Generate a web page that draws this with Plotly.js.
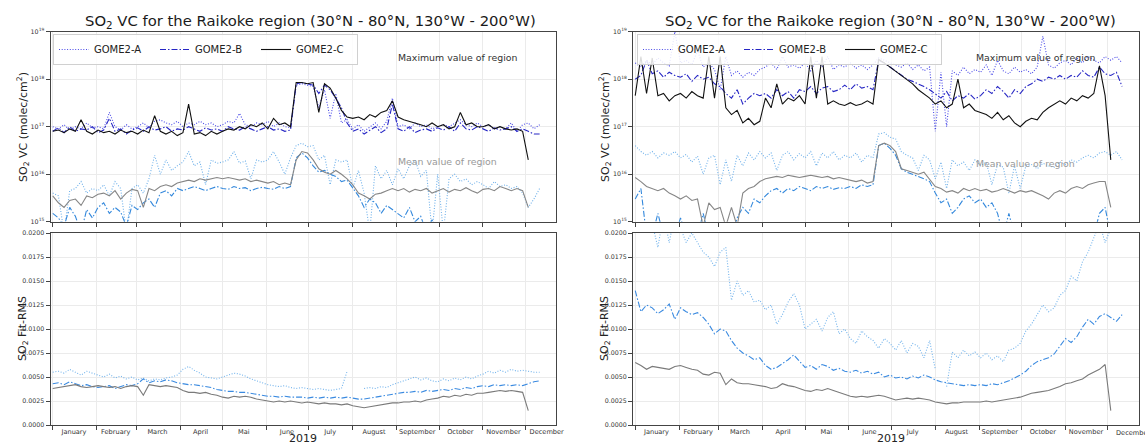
<!DOCTYPE html>
<html>
<head>
<meta charset="utf-8">
<script src="https://cdn.plot.ly/plotly-3.0.1.min.js"></script>
<style>
  html, body { margin: 0; padding: 0; background: #fff; overflow: hidden; }
  #chart { width: 1145px; height: 446px; }
</style>
</head>
<body>
<div id="chart"></div>
<script>
// Samples are taken every 4 days starting 1 January 2019.
const startDay = '2019-01-01';
const stepDays = 4;

const monthStarts = ['2019-01-01','2019-02-01','2019-03-01','2019-04-01','2019-05-01','2019-06-01',
                     '2019-07-01','2019-08-01','2019-09-01','2019-10-01','2019-11-01','2019-12-01'];
const monthMids = ['2019-01-16','2019-02-14 12:00','2019-03-16','2019-04-15 12:00','2019-05-16','2019-06-15 12:00',
                   '2019-07-16','2019-08-16','2019-09-15 12:00','2019-10-16','2019-11-15 12:00','2019-12-16'];
const monthLabels = ['January','February','March','April','Mai','June','July','August','September','October','November','December'];
const satellites = ['GOME2-A', 'GOME2-B', 'GOME2-C'];

const vcTicks = [1e15, 1e16, 1e17, 1e18, 1e19];
const vcTickText = ['10<sup>15</sup>','10<sup>16</sup>','10<sup>17</sup>','10<sup>18</sup>','10<sup>19</sup>'];
const rmsTicks = [0, 0.0025, 0.005, 0.0075, 0.01, 0.0125, 0.015, 0.0175, 0.02];

// ---------- Panel 1: SO2 VC, maximum of region ----------
const p1MaxA = [
  1.0e17, 9e16, 1.1e17, 8.5e16, 1.0e17, 9e16, 1.2e17, 9.5e16, 1.0e17, 9e16,
  2.0e17, 1.0e17, 8.5e16, 1.1e17, 9e16, 1.0e17, 1.2e17, 9.5e16, 1.3e17, 1.4e17,
  1.2e17, 1.1e17, 1.3e17, 1.0e17, 1.2e17, 1.1e17, 1.3e17, 1.1e17, 1.2e17, 1.0e17,
  1.1e17, 1.3e17, 1.2e17, 1.9e17, 1.1e17, 1.0e17, 1.2e17, 1.1e17, 1.3e17, 1.0e17,
  1.2e17, 1.0e17, 9.5e16, 7.5e17, 8e17, 7.5e17, 7e17, 2.5e17, 6e17, 1.5e17,
  5e17, 1.2e17, 1.4e17, 9e16, 1.1e17, 8e16, 1.0e17, 1.2e17, 9e16, 1.3e17,
  4e17, 1.0e17, 1.1e17, 9e16, 1.2e17, 1.0e17, 1.1e17, 9e16, 1.0e17, 1.1e17,
  1.0e17, 1.2e17, 1.4e17, 1.1e17, 1.0e17, 1.2e17, 1.0e17, 1.1e17, 9e16, 1.0e17,
  9e16, 1.2e17, 8e16, 1.1e17, 1.2e17, 9e16, 1.1e17
];
const p1MaxB = [
  8e16, 9.5e16, 7.5e16, 1.0e17, 8e16, 9e16, 8.5e16, 1.0e17, 7.5e16, 8.5e16,
  1.5e17, 8e16, 9e16, 7e16, 8.5e16, 9.5e16, 8e16, 1.0e17, 8.5e16, 9e16,
  1.0e17, 8e16, 9e16, 8.5e16, 1.0e17, 9e16, 8e16, 9.5e16, 8.5e16, 9e16,
  8e16, 1.0e17, 9e16, 8.5e16, 1.0e17, 9e16, 8e16, 9e16, 1.0e17, 8.5e16,
  9e16, 8e16, 8.5e16, 8e17, 8.5e17, 8e17, 7.5e17, 5e17, 7.5e17, 6e17,
  4e17, 2.5e17, 1.2e17, 8e16, 9e16, 7e16, 8.5e16, 1.0e17, 7.5e16, 9e16,
  3e17, 9e16, 8e16, 1.0e17, 7.5e16, 8.5e16, 9e16, 8e16, 9.5e16, 8.5e16,
  1.0e17, 8e16, 1.2e17, 9e16, 8.5e16, 1.0e17, 9e16, 8e16, 9.5e16, 8.5e16,
  9e16, 1.0e17, 8e16, 9e16, 8e16, 7e16, 7e16
];
const p1MaxC = [
  8e16, 8.5e16, 7.5e16, 9e16, 8e16, 1.4e17, 8e16, 7e16, 8.5e16, 7.5e16,
  8e16, 7e16, 8.5e16, 7.5e16, 8e16, 7e16, 8.5e16, 7.5e16, 1.7e17, 8e16,
  7e16, 8e16, 6.5e16, 7.5e16, 3e17, 7e16, 7.5e16, 6.5e16, 8e16, 7e16,
  8e16, 9e16, 8.5e16, 1.0e17, 9e16, 1.1e17, 1.0e17, 1.2e17, 9e16, 1.5e17,
  1.1e17, 1.2e17, 1.0e17, 8.5e17, 8.5e17, 8e17, 8.5e17, 2e17, 8e17, 6.5e17,
  4e17, 2.2e17, 1.6e17, 1.5e17, 1.6e17, 1.4e17, 1.8e17, 1.6e17, 2.0e17, 2.2e17,
  3.5e17, 1.6e17, 1.4e17, 1.3e17, 1.2e17, 1.1e17, 1.0e17, 1.2e17, 1.0e17, 1.1e17,
  9e16, 1.0e17, 2.0e17, 1.1e17, 1.2e17, 1.0e17, 1.0e17, 1.1e17, 9e16, 1.0e17,
  9e16, 8.5e16, 9e16, 8e16, 2e16, null, null
];

// ---------- Panel 1: SO2 VC, mean of region ----------
const p1MeanA = [
  4e15, 3.5e15, 6e14, 4.5e15, 5e15, 7e15, 4e15, 5e15, 4.5e15, 6e15,
  3.5e15, 7e15, 5e15, 6e14, 5e15, 6e15, 4e15, 8e15, 2.5e16, 1e16,
  2e16, 1.2e16, 1.5e16, 1.8e16, 3e16, 1.5e16, 1.8e16, 6e15, 2e16, 1.7e16,
  1.8e16, 2e16, 3e16, 1.7e16, 1.9e16, 8e15, 2e16, 1.8e16, 2e16, 3e16,
  1.8e16, 1e16, 2.2e16, 4e16, 4.5e16, 3.8e16, 4e16, 2e16, 2.5e16, 6e15,
  2e16, 1.8e16, 2e16, 5e15, 1.2e16, 4e15, 6e14, 1.5e16, 8e15, 1.2e16,
  6e15, 1.3e16, 8e15, 1.5e16, 2e16, 9e15, 1.2e16, 6e14, 1e16, 6e14,
  8e15, 1e16, 7e15, 8e15, 6e15, 7e15, 6e15, 5e15, 7e15, 5.5e15,
  6e15, 5e15, 5.5e15, 4e15, 2e15, 3e15, 5e15
];
const p1MeanB = [
  1.5e15, 1.2e15, 8e14, 2e15, 1.3e15, 6e14, 1.8e15, 1.2e15, 2e15, 2.5e15,
  1.5e15, 2e15, 1.6e15, 8e14, 2.2e15, 1.8e15, 2.5e15, 3e15, 2e15, 4e15,
  4.5e15, 3.5e15, 5e15, 4.5e15, 5e15, 5.5e15, 5e15, 4.5e15, 5e15, 5.5e15,
  5e15, 4.8e15, 5.5e15, 5e15, 5.2e15, 4.5e15, 5e15, 5.3e15, 5e15, 4.8e15,
  5.5e15, 5e15, 5.5e15, 2.2e16, 2.8e16, 2.2e16, 1.5e16, 1.1e16, 1.2e16, 1e16,
  9e15, 7e15, 7.5e15, 5e15, 3.5e15, 2e15, 3e15, 2.5e15, 1.5e15, 2.2e15,
  1.8e15, 1.5e15, 1.2e15, 2e15, 1e15, 1.3e15, 6e14, 1.1e15, 5e14, null,
  null, null, null, null, null, null, null, null, null, null,
  null, null, null, null, null, null, null
];
const p1MeanC = [
  3.5e15, 2.5e15, 2e15, 2.8e15, 3e15, 2.2e15, 3.5e15, 3.2e15, 3.8e15, 4e15,
  3.5e15, 4.5e15, 3e15, 4e15, 4.8e15, 4.5e15, 2e15, 5e15, 4.5e15, 5.5e15,
  6e15, 5.5e15, 6.5e15, 7e15, 7.5e15, 7e15, 8e15, 7.5e15, 8e15, 8.5e15,
  8e15, 8.5e15, 8e15, 7.5e15, 8e15, 7e15, 7.5e15, 7e15, 6.5e15, 7e15,
  6e15, 6.5e15, 6e15, 2e16, 3e16, 2.8e16, 2e16, 1.3e16, 1.1e16, 1e16,
  1.2e16, 1e16, 8e15, 6e15, 4e15, 3.5e15, 3e15, 3.8e15, 4e15, 4.5e15,
  5e15, 4.5e15, 5e15, 4.2e15, 4.8e15, 4.5e15, 5e15, 4e15, 4.5e15, 5e15,
  4.2e15, 4.8e15, 4.5e15, 5.2e15, 4.5e15, 4e15, 4.8e15, 5e15, 4.5e15, 5.5e15,
  5e15, 4.5e15, 5e15, 4.5e15, 2e15, null, null
];

// ---------- Panel 1: SO2 fit RMS ----------
const p1RmsA = [
  .0055, .0056, .0054, .0058, .0055, .0052, .0056, .0054, .0052, .0050,
  .0053, .0049, .0051, .0048, .0050, .0047, .0049, .0046, .0048, .0047,
  .0049, .0050, .0052, .0058, .0061, .0057, .0054, .0050, .0049, .0048,
  .0050, .0052, .0054, .0053, .0051, .0048, .0046, .0044, .0042, .0041,
  .0040, .0041, .0039, .0038, .0039, .0038, .0037, .0038, .0037, .0036,
  .0037, .0038, .0056, null, null, .0038, .0039, .0038, .0040, .0039,
  .0042, .0044, .0046, .0048, .0050, .0047, .0049, .0046, .0045, .0048,
  .0046, .0049, .0047, .0050, .0048, .0051, .0053, .0056, .0054, .0057,
  .0055, .0058, .0056, .0057, .0056, .0055, .0055
];
const p1RmsB = [
  .0043, .0044, .0042, .0045, .0043, .0041, .0042, .0040, .0039, .0040,
  .0041, .0038, .0040, .0042, .0041, .0043, .0048, .0044, .0046, .0045,
  .0047, .0046, .0044, .0043, .0042, .0042, .0041, .0040, .0039, .0037,
  .0036, .0035, .0035, .0034, .0034, .0033, .0032, .0031, .0030, .0030,
  .0029, .0030, .0029, .0029, .0029, .0028, .0029, .0028, .0029, .0028,
  .0029, .0028, .0029, .0028, .0027, .0027, .0028, .0029, .0030, .0031,
  .0032, .0033, .0034, .0034, .0035, .0034, .0036, .0035, .0036, .0037,
  .0036, .0038, .0037, .0039, .0038, .0040, .0041, .0040, .0042, .0041,
  .0042, .0041, .0042, .0041, .0043, .0045, .0046
];
const p1RmsC = [
  .0038, .0039, .0040, .0041, .0042, .0040, .0039, .0040, .0041, .0040,
  .0039, .0040, .0038, .0040, .0041, .0040, .0031, .0042, .0041, .0040,
  .0041, .0040, .0039, .0036, .0034, .0034, .0033, .0034, .0032, .0031,
  .0029, .0028, .0030, .0029, .0030, .0029, .0027, .0026, .0025, .0024,
  .0025, .0024, .0025, .0024, .0023, .0024, .0023, .0022, .0023, .0022,
  .0022, .0021, .0022, .0020, .0019, .0018, .0019, .0020, .0021, .0022,
  .0023, .0023, .0024, .0024, .0025, .0024, .0026, .0027, .0028, .0030,
  .0029, .0031, .0030, .0032, .0031, .0033, .0033, .0034, .0035, .0036,
  .0035, .0036, .0035, .0034, .0015, null, null
];

// ---------- Panel 2: SO2 VC, maximum of region ----------
const p2MaxA = [
  2.2e18, 1.8e18, 2.5e18, 2e18, 2.8e18, 2.2e18, 1.9e18, 1e19, 2.2e18, 2.5e18,
  2e18, 4e18, 1.8e18, 2.2e18, 1.6e18, 6e17, 3e18, 1.2e18, 1.5e18, 1.1e18,
  1.4e18, 1.2e18, 1.6e18, 1.8e18, 2.2e18, 1.6e18, 3e18, 1.8e18, 2e18, 1.7e18,
  2.2e18, 1.5e18, 2.5e18, 1.8e18, 3e18, 1.6e18, 2e18, 1.8e18, 2.2e18, 1.7e18,
  2e18, 1.6e18, 2e18, 2.8e18, 2.5e18, 2.2e18, 2e18, 1.8e18, 2.2e18, 1.6e18,
  2e18, 1.5e18, 1.8e18, 8e16, 1.4e18, 1e17, 1.5e18, 1.2e18, 1.8e18, 1.3e18,
  1.6e18, 1.4e18, 2e18, 1.2e18, 2.5e18, 1.5e18, 1.3e18, 1.8e18, 1.4e18, 1.6e18,
  1.3e18, 1.8e18, 8e18, 2e18, 1.7e18, 2.2e18, 2.5e18, 2e18, 2.8e18, 2.2e18,
  3e18, 2.5e18, 2.2e18, 3e18, 2.5e18, 3e18, 2.2e18
];
const p2MaxB = [
  1e18, 1.2e18, 2.5e18, 1.3e18, 1.5e18, 1.1e18, 1.4e18, 1.2e18, 1.1e18, 1.3e18,
  9e17, 1.2e18, 1e18, 1.1e18, 8e17, 7e17, 5e17, 4e17, 6e17, 3e17,
  4e17, 5e17, 4.5e17, 5e17, 4e17, 6e17, 4.5e17, 5.5e17, 4e17, 6e17,
  5.5e17, 7e17, 5e17, 6.5e17, 7e17, 5.5e17, 6e17, 7.5e17, 6e17, 8e17,
  6.5e17, 7e17, 6e17, 2.5e18, 2.2e18, 1.8e18, 1.5e18, 1.2e18, 1e18, 9e17,
  8e17, 7e17, 6e17, 5e17, 4e17, 5.5e17, 3.5e17, 4.5e17, 4e17, 5e17,
  3.8e17, 4.5e17, 6e17, 5e17, 7e17, 5.5e17, 4e17, 6e17, 5e17, 7e17,
  8e17, 1e18, 9e17, 1.1e18, 1e18, 1.2e18, 1e18, 1.2e18, 1.1e18, 1.5e18,
  1.2e18, 1.1e18, 1.8e18, 1.3e18, 1.2e18, 1.4e18, 7e17
];
const p2MaxC = [
  4.5e17, 3e18, 5e17, 2.8e18, 4.5e17, 5e17, 3.5e17, 4.5e17, 5e17, 4e17,
  5.5e17, 4.5e17, 4e17, 3e18, 4e17, 3e18, 2.5e17, 1.8e17, 2.2e17, 1.2e17,
  1.5e17, 1.1e17, 1.3e17, 4e17, 2.5e17, 8e17, 3e17, 4e17, 3.5e17, 4.5e17,
  3e17, 3e18, 4e17, 3e18, 3e17, 3.5e17, 3e17, 2.8e17, 3.2e17, 2.8e17,
  3e17, 3.5e17, 3e17, 2.6e18, 2.2e18, 1.8e18, 1.5e18, 1.2e18, 1e18, 8e17,
  6e17, 5e17, 4e17, 3e17, 3.5e17, 2.5e17, 3e17, 1e18, 2.5e17, 3e17,
  2.2e17, 2e17, 1.8e17, 1.5e17, 2e17, 1.4e17, 1.7e17, 1.2e17, 1e17, 1.3e17,
  1.5e17, 1.4e17, 2e17, 2.5e17, 3e17, 3.5e17, 3e17, 4e17, 3.5e17, 4.5e17,
  4e17, 5e17, 1.9e18, 4.5e17, 2e16, null, null
];

// ---------- Panel 2: SO2 VC, mean of region ----------
const p2MeanA = [
  4e16, 3e16, 2.5e16, 3e16, 2.2e16, 2.8e16, 2.5e16, 3e16, 2.2e16, 2.6e16,
  1.8e16, 2.4e16, 1e16, 2.2e16, 2.5e16, 6e15, 2e16, 7e15, 2.5e16, 1.5e16,
  2.8e16, 2e16, 3e16, 2.2e16, 2.8e16, 1.2e16, 2.5e16, 3e16, 2e16, 2.7e16,
  2.2e16, 3e16, 1.5e16, 2.8e16, 2.2e16, 3e16, 2e16, 2.5e16, 2.2e16, 2.8e16,
  1.8e16, 2.5e16, 2.2e16, 7e16, 7.5e16, 6e16, 5.5e16, 3e16, 2.5e16, 2.2e16,
  1.2e16, 2.5e16, 2e16, 8e15, 1.8e16, 5e15, 2e16, 1.5e16, 1.8e16, 1.2e16,
  2e16, 1.5e16, 1.8e16, 6e15, 1.6e16, 1.4e16, 4e15, 1.5e16, 5e15, 1.5e16,
  1.6e16, 1.3e16, 1.7e16, 1.5e16, 1.4e16, 1.8e16, 1.6e16, 2e16, 1.8e16, 2.2e16,
  2.5e16, 2.2e16, 2.8e16, 3e16, 2.5e16, 3e16, 2e16
];
const p2MeanB = [
  3e15, 5e15, 5e14, 5e14, 1.5e15, 5e14, 5e14, 5e14, 1.2e15, 5e14,
  5e14, 5e14, 1.5e15, 5e14, 5e14, 5e14, 5e14, 5e14, 1.2e15, 2e15,
  1.5e15, 3e15, 2.5e15, 3.5e15, 4.5e15, 5e15, 4e15, 5e15, 4.5e15, 5.5e15,
  5e15, 4.5e15, 5.5e15, 5e15, 5.5e15, 4.8e15, 5.2e15, 5e15, 5.5e15, 5e15,
  6e15, 5.5e15, 6e15, 4e16, 4.5e16, 3.5e16, 2.5e16, 1.3e16, 1.1e16, 1e16,
  9e15, 8e15, 7e15, 4e15, 2.5e15, 3e15, 1.5e15, 2e15, 3e15, 3.5e15,
  2.5e15, 3e15, 2e15, 2.5e15, 1.5e15, 5e14, 1.5e15, 5e14, 5e14, null,
  null, null, null, null, null, null, null, null, null, null,
  null, 5e14, 1.5e15, 2e15, 5e14, null, null
];
const p2MeanC = [
  8.5e15, 7e15, 5.5e15, 5e15, 4.5e15, 5e15, 4e15, 3.5e15, 3e15, 3.5e15,
  2.8e15, 3e15, 8e14, 2.5e15, 1.8e15, 2e15, 8e14, 2e15, 8e14, 4e15,
  5e15, 5.5e15, 7e15, 8e15, 8.5e15, 9e15, 8.5e15, 9.5e15, 9e15, 8.5e15,
  9e15, 9.5e15, 9e15, 8.5e15, 9e15, 8e15, 8.5e15, 8e15, 7.5e15, 7e15,
  7.5e15, 6.5e15, 7e15, 4e16, 4.5e16, 4e16, 3e16, 1.3e16, 1.2e16, 1.1e16,
  1e16, 1.1e16, 8e15, 5.5e15, 5e15, 4.2e15, 4.5e15, 4e15, 5e15, 4.5e15,
  5e15, 4.5e15, 4.8e15, 4.2e15, 4.5e15, 5e15, 4.5e15, 4e15, 4.5e15, 4.2e15,
  4.5e15, 4e15, 3.5e15, 3e15, 4e15, 4.5e15, 4e15, 5e15, 5.5e15, 5e15,
  6e15, 6.5e15, 7e15, 7e15, 2e15, null, null
];

// ---------- Panel 2: SO2 fit RMS ----------
const p2RmsA = [
  .022, .023, .022, .021, .0185, .022, .019, .022, .0205, .019,
  .020, .019, .018, .0175, .0165, .018, .0185, .013, .015, .0135,
  .0140, .0128, .013, .0120, .0125, .0105, .0115, .0128, .0137, .0125,
  .0100, .0105, .0110, .0098, .0112, .0118, .0095, .0100, .0090, .0085,
  .0098, .0092, .0088, .0080, .0090, .0085, .0078, .0088, .0075, .0085,
  .0082, .0070, .0088, .0058, null, .0040, .0076, .0070, .0078, .0072,
  .0076, .0070, .0075, .0068, .0072, .0066, .0078, .0080, .0085, .0098,
  .0105, .0115, .0125, .0118, .0122, .0135, .0140, .0155, .0150, .0170,
  .0180, .0195, .0210, .0190, .0205, null, null
];
const p2RmsB = [
  .0140, .0118, .0125, .0122, .0116, .0120, .0126, .0110, .0122, .0118,
  .0115, .0117, .0112, .0105, .0095, .0100, .0098, .0088, .0080, .0075,
  .0072, .0068, .0070, .0062, .0058, .0060, .0064, .0068, .0073, .0066,
  .0060, .0062, .0058, .0063, .0061, .0057, .0059, .0056, .0055, .0057,
  .0054, .0056, .0053, .0055, .0050, .0052, .0049, .0050, .0048, .0051,
  .0049, .0052, .0050, .0047, .0045, .0044, .0043, .0042, .0041, .0042,
  .0041, .0042, .0041, .0043, .0042, .0044, .0046, .0049, .0052, .0056,
  .0062, .0066, .0068, .0070, .0074, .0082, .0090, .0086, .0092, .0102,
  .0110, .0105, .0113, .0116, .0112, .0108, .0115
];
const p2RmsC = [
  .0065, .0062, .0058, .0061, .0060, .0059, .0058, .0061, .0062, .0060,
  .0058, .0057, .0053, .0052, .0055, .0054, .0042, .0048, .0044, .0043,
  .0043, .0042, .0041, .0040, .0038, .0039, .0043, .0041, .0040, .0038,
  .0036, .0035, .0037, .0036, .0038, .0036, .0034, .0032, .0030, .0029,
  .0030, .0029, .0030, .0031, .0030, .0028, .0026, .0027, .0028, .0027,
  .0028, .0027, .0026, .0024, .0023, .0022, .0023, .0023, .0024, .0024,
  .0024, .0024, .0025, .0024, .0025, .0026, .0027, .0028, .0029, .0031,
  .0033, .0034, .0035, .0036, .0038, .0040, .0043, .0044, .0046, .0048,
  .0052, .0055, .0058, .0063, .0015, null, null
];

// ---------- drawing ----------
function sampleDates(n) {
  const t0 = Date.parse(startDay + 'T00:00:00Z');
  const out = [];
  for (let i = 0; i < n; i++) {
    out.push(new Date(t0 + i * stepDays * 86400000).toISOString().slice(0, 10));
  }
  return out;
}

const DOT = '1px,1.7px';
const DASHDOT = '6px,2px,1.5px,2px';
const styleMax  = [{color: '#4a4ae8', dash: DOT}, {color: '#2626c4', dash: DASHDOT}, {color: '#111111', dash: 'solid'}];
const styleMean = [{color: '#6eb0ea', dash: DOT}, {color: '#3388dc', dash: DASHDOT}, {color: '#868686', dash: 'solid'}];
const styleRms  = [{color: '#72b3ec', dash: DOT}, {color: '#3a8ae0', dash: DASHDOT}, {color: '#7a7a7a', dash: 'solid'}];

function line(y, st, xa, ya, name, legend) {
  return {
    type: 'scatter', mode: 'lines', x: sampleDates(y.length), y: y,
    xaxis: xa, yaxis: ya, name: name,
    showlegend: !!legend, legend: legend || 'legend',
    line: {color: st.color, dash: st.dash, width: 1.1},
    hoverinfo: 'skip'
  };
}

const panels = [
  {max: [p1MaxA, p1MaxB, p1MaxC], mean: [p1MeanA, p1MeanB, p1MeanC], rms: [p1RmsA, p1RmsB, p1RmsC],
   xTop: 'x', yTop: 'y', xBot: 'x2', yBot: 'y2', legend: 'legend'},
  {max: [p2MaxA, p2MaxB, p2MaxC], mean: [p2MeanA, p2MeanB, p2MeanC], rms: [p2RmsA, p2RmsB, p2RmsC],
   xTop: 'x3', yTop: 'y3', xBot: 'x4', yBot: 'y4', legend: 'legend2'}
];

const traces = [];
panels.forEach(p => {
  p.mean.forEach((y, k) => traces.push(line(y, styleMean[k], p.xTop, p.yTop, satellites[k] + ' mean', null)));
  p.max.forEach((y, k) => traces.push(line(y, styleMax[k], p.xTop, p.yTop, satellites[k], p.legend)));
  p.rms.forEach((y, k) => traces.push(line(y, styleRms[k], p.xBot, p.yBot, satellites[k] + ' RMS', null)));
});

const W = 1145, H = 446;
const px = v => v / W;
const py = v => 1 - v / H;

const xRange = ['2018-12-30 10:00', '2019-12-22 14:00'];
const domLeft = [px(50.5), px(556)];
const domRight = [px(633), px(1138.5)];
const domTop = [py(221.7), py(31.7)];
const domBot = [py(425), py(233)];

const frame = {showline: true, mirror: true, linecolor: '#444', linewidth: 1, zeroline: false};
const grid = {showgrid: true, gridcolor: '#ebebeb', gridwidth: 1};
const tickFont = {family: 'DejaVu Sans', size: 6.3, color: '#333'};
const monthFont = {family: 'DejaVu Sans', size: 6.6, color: '#333'};

function topX(dom, anchor) {
  return Object.assign({}, frame, grid, {
    domain: dom, anchor: anchor, type: 'date', range: xRange,
    tickmode: 'array', tickvals: monthStarts, showticklabels: false,
    ticks: 'outside', ticklen: 4, tickcolor: '#444'
  });
}
// The right-hand panel reaches the page edge, so its last month name is
// written as a note that runs off the edge instead of being dropped.
function botX(dom, anchor, lastLabel) {
  const text = monthLabels.slice();
  if (!lastLabel) text[text.length - 1] = '';
  return Object.assign({}, frame, {
    domain: dom, anchor: anchor, type: 'date', range: xRange,
    tickmode: 'array', tickvals: monthMids, ticktext: text,
    ticks: '', showgrid: false, ticklabeloverflow: 'allow',
    tickfont: monthFont,
    minor: {tickmode: 'array', tickvals: monthStarts, ticks: 'outside', ticklen: 4,
            tickcolor: '#444', showgrid: true, gridcolor: '#ebebeb'}
  });
}
function topY(anchor) {
  return Object.assign({}, frame, grid, {
    domain: domTop, anchor: anchor, type: 'log', range: [15, 19],
    tickmode: 'array', tickvals: vcTicks, ticktext: vcTickText,
    ticks: 'outside', ticklen: 4, tickcolor: '#444', tickfont: tickFont
  });
}
function botY(anchor) {
  return Object.assign({}, frame, grid, {
    domain: domBot, anchor: anchor, range: [0, 0.02],
    tickmode: 'array', tickvals: rmsTicks, tickformat: '.4f',
    ticks: 'outside', ticklen: 4, tickcolor: '#444', tickfont: tickFont
  });
}

const titleText = 'SO<sub>2</sub> VC for the Raikoke region (30°N - 80°N, 130°W - 200°W)';
const font = 'DejaVu Sans';
function note(text, x, y, size, color, extra) {
  return Object.assign({text: text, x: x, y: y, xref: 'paper', yref: 'paper', showarrow: false,
    font: {family: font, size: size, color: color}, xanchor: 'center', yanchor: 'middle'}, extra || {});
}

const annotations = [
  note(titleText, px(310), py(21), 14.8, '#1a1a1a'),
  note(titleText, px(890), py(21), 14.8, '#1a1a1a'),
  note('Maximum value of region', px(396), py(58), 9.4, '#333', {xanchor: 'left'}),
  note('Mean value of region', px(396), py(162), 9.4, '#999', {xanchor: 'left'}),
  note('Maximum value of region', px(974), py(58), 9.4, '#333', {xanchor: 'left'}),
  note('Mean value of region', px(974), py(163), 9.4, '#999', {xanchor: 'left'}),
  note('SO<sub>2</sub> VC (molec/cm<sup>2</sup>)', px(23), py(127), 11, '#222', {textangle: -90}),
  note('SO<sub>2</sub> Fit-RMS', px(23), py(329), 11, '#222', {textangle: -90}),
  note('SO<sub>2</sub> VC (molec/cm<sup>2</sup>)', px(605), py(127), 11, '#222', {textangle: -90}),
  note('SO<sub>2</sub> Fit-RMS', px(605), py(329), 11, '#222', {textangle: -90}),
  note('2019', px(303), 0, 11, '#222', {yanchor: 'bottom', borderpad: 0}),
  note('2019', px(891), 0, 11, '#222', {yanchor: 'bottom', borderpad: 0}),
  note('December', px(1115), py(432.5), 6.6, '#333', {xanchor: 'left', borderpad: 0})
];

const legendBase = {
  orientation: 'h', xanchor: 'left', yanchor: 'top',
  bgcolor: 'rgba(255,255,255,0.85)', bordercolor: '#d0d0d0', borderwidth: 1,
  font: {family: font, size: 10, color: '#222'},
  entrywidth: 56, entrywidthmode: 'pixels', itemwidth: 30, tracegroupgap: 0
};

const layout = {
  width: W, height: H,
  margin: {l: 0, r: 0, t: 0, b: 0},
  paper_bgcolor: '#ffffff', plot_bgcolor: '#ffffff',
  font: {family: font},
  showlegend: true,
  legend: Object.assign({}, legendBase, {x: px(53), y: py(34)}),
  legend2: Object.assign({}, legendBase, {x: px(637), y: py(34)}),
  xaxis: topX(domLeft, 'y'),   yaxis: topY('x'),
  xaxis2: botX(domLeft, 'y2', true), yaxis2: botY('x2'),
  xaxis3: topX(domRight, 'y3'), yaxis3: topY('x3'),
  xaxis4: botX(domRight, 'y4', false), yaxis4: botY('x4'),
  annotations: annotations
};

Plotly.newPlot('chart', traces, layout, {staticPlot: true, displayModeBar: false});
</script>
</body>
</html>
